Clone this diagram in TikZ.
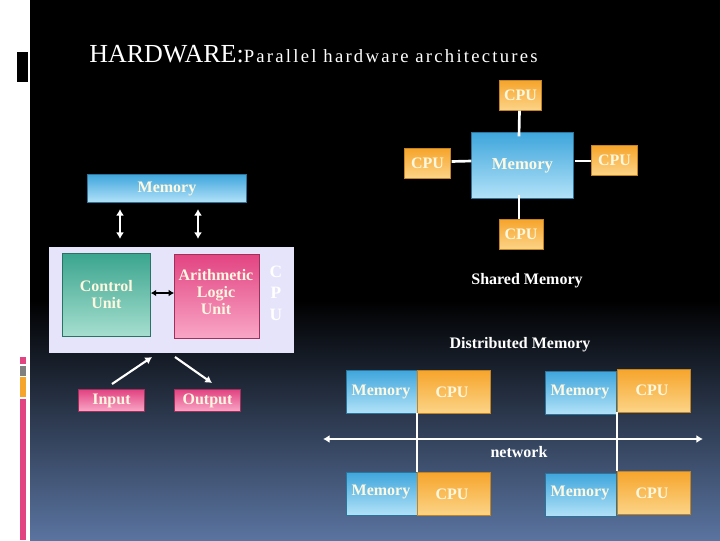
\documentclass[tikz,border=0pt]{standalone}
\usepackage{fontspec}
\setmainfont{Liberation Serif}
\usetikzlibrary{arrows.meta}
\definecolor{bgbot}{HTML}{5A74A0}
\definecolor{memtop}{HTML}{3FA6DC}
\definecolor{membot}{HTML}{B2E2F8}
\definecolor{cputop}{HTML}{F6A52C}
\definecolor{cpubot}{HTML}{FCD487}
\definecolor{cutop}{HTML}{3AA58E}
\definecolor{cubot}{HTML}{A6DECF}
\definecolor{alutop}{HTML}{E24482}
\definecolor{alubot}{HTML}{F9A6C6}
\definecolor{lav}{HTML}{E6E4FA}
\definecolor{txt}{HTML}{FFF8E0}
\tikzset{
 lbl/.style={text=txt,font=\bfseries\fontsize{12}{13}\selectfont},
 mem/.style={draw=memtop!70!black,line width=0.6pt,top color=memtop,bottom color=membot,inner sep=0pt,lbl},
 cpu/.style={draw=cputop!80!black,line width=0.6pt,top color=cputop,bottom color=cpubot,inner sep=0pt,lbl},
 pinkb/.style={draw=alutop!70!black,line width=0.6pt,top color=alutop,bottom color=alubot,inner sep=0pt,lbl},
 wl/.style={white,line width=2pt},
 dar/.style={white,line width=1.6pt,{Latex[length=5pt,width=6pt]}-{Latex[length=5pt,width=6pt]}},
}
\begin{document}
\begin{tikzpicture}[x=0.75pt,y=-0.75pt]
\useasboundingbox (0,0) rectangle (720,540);
\fill[white] (0,0) rectangle (30,540);
\fill[black] (30,0) rectangle (720,300);
\shade[top color=black,bottom color=bgbot] (30,300) rectangle (720,540);
\fill[black] (17,52) rectangle (28,82);
\fill[alutop] (20,357) rectangle (26,364);
\fill[gray] (20,366) rectangle (26,376);
\fill[cputop] (20,377) rectangle (26,397);
\fill[alutop] (20,399) rectangle (26,540);
% title
\node[anchor=base west,text=white,inner sep=0pt] (title) at (89,62) {\fontsize{19.5}{20}\selectfont HARDWARE:\fontsize{14}{15}\selectfont\addfontfeature{LetterSpace=12}Parallel hardware architectures};
% shared memory
\node[mem,minimum width=76pt,minimum height=49pt,font=\bfseries\fontsize{12.5}{13}\selectfont] (sm) at (522.5,165.5) {Memory};
\node[cpu,minimum width=32pt,minimum height=22pt] (c1) at (520.5,95.5) {CPU};
\node[cpu,minimum width=34pt,minimum height=22pt] (c2) at (427.5,163.5) {CPU};
\node[cpu,minimum width=34pt,minimum height=22pt] (c3) at (614.5,160.5) {CPU};
\node[cpu,minimum width=33pt,minimum height=22pt] (c4) at (521,234.5) {CPU};
\draw[wl] (c1.south) ++(-1,0) -- ([yshift=-3]sm.north -| 519,0);
\draw[wl] (c2.east) ++(1,-2) -- (sm.west |- 0,161) ++(-2,0);
\draw[wl] (c2.east |- 0,161) ++(1,0) -- ([xshift=-2]sm.west |- 0,161);
\draw[wl] ([xshift=1]sm.east |- 0,161) -- (c3.west |- 0,161);
\draw[wl] ([yshift=3]sm.south -| 519,0) -- (c4.north -| 519,0);
\node[text=white,font=\bfseries\fontsize{12}{13}\selectfont] (shl) at (527,281) {Shared Memory};
\node[text=white,font=\bfseries\fontsize{12}{13}\selectfont] (dml) at (520,345) {Distributed Memory};
% von Neumann
\node[mem,minimum width=119pt,minimum height=21pt,anchor=north west] (lm) at (87,174) {};
\node[lbl] (lmt) at (167,189) {Memory};
\fill[lav] (49,247) rectangle (294,353);
\node[inner sep=0pt,minimum width=0pt] (cpub) at (171.5,300) {};
\node[draw=cutop!70!black,line width=0.6pt,top color=cutop,bottom color=cubot,minimum width=66pt,minimum height=62pt,lbl,align=center,anchor=north west] (cu) at (62,253) {Control\\Unit};
\node[pinkb,minimum width=64pt,minimum height=63pt,align=center,anchor=north west] (alu) at (174,254) {};
\node[lbl,align=center] (alut) at (216,292) {Arithmetic\\Logic\\Unit};
\node[text=white,font=\bfseries\fontsize{13}{16}\selectfont,align=center] (cpul) at (276,293) {C\\P\\U};
\draw[black,line width=1.6pt,{Latex[length=4pt,width=5pt]}-{Latex[length=4pt,width=5pt]}] (cu.east |- 0,293) -- (alu.west |- 0,293);
\draw[dar] (120,209) -- (120,239);
\draw[dar] (198,209) -- (198,239);
\node[pinkb,minimum width=49pt,minimum height=16pt] (in) at (111.5,400.5) {Input};
\node[pinkb,minimum width=49pt,minimum height=16pt] (out) at (207.5,400.5) {Output};
\coordinate (ia) at (152,357);
\coordinate (ob) at (175,357);
\draw[white,line width=1.6pt,-{Latex[length=5pt,width=6pt]}] (112,384) -- (ia);
\draw[white,line width=1.6pt,-{Latex[length=5pt,width=6pt]}] (ob) -- (212,383);
% distributed
\tikzset{dm/.style={mem,minimum width=53pt,minimum height=32pt,anchor=north west},
 dc/.style={cpu,minimum width=55pt,minimum height=32pt,anchor=north west}}
\node[dm] (m1) at (346,370) {}; \node[lbl] at (381,392) {Memory};
\node[dc] (p1) at (417,370) {}; \node[lbl] at (452,392) {CPU};
\node[dm] (m2) at (545,371) {}; \node[lbl] at (580,392) {Memory};
\node[dc] (p2) at (617,369) {}; \node[lbl] at (652,390) {CPU};
\node[dm] (m3) at (346,472) {}; \node[lbl] at (381,492) {Memory};
\node[dc] (p3) at (417,472) {}; \node[lbl] at (452,494) {CPU};
\node[dm] (m4) at (545,473) {}; \node[lbl] at (580,493) {Memory};
\node[dc] (p4) at (617,471) {}; \node[lbl] at (652,493) {CPU};
\coordinate (nl) at (323,439);
\coordinate (nr) at (703,439);
\draw[dar] (nl) -- (nr);
\draw[wl] (p1.south west) -- (p3.north west);
\draw[wl] (p2.south west) -- (p4.north west);
\node[text=white,font=\bfseries\fontsize{12}{13}\selectfont] (nt) at (519,452) {network};
\end{tikzpicture}
\end{document}
